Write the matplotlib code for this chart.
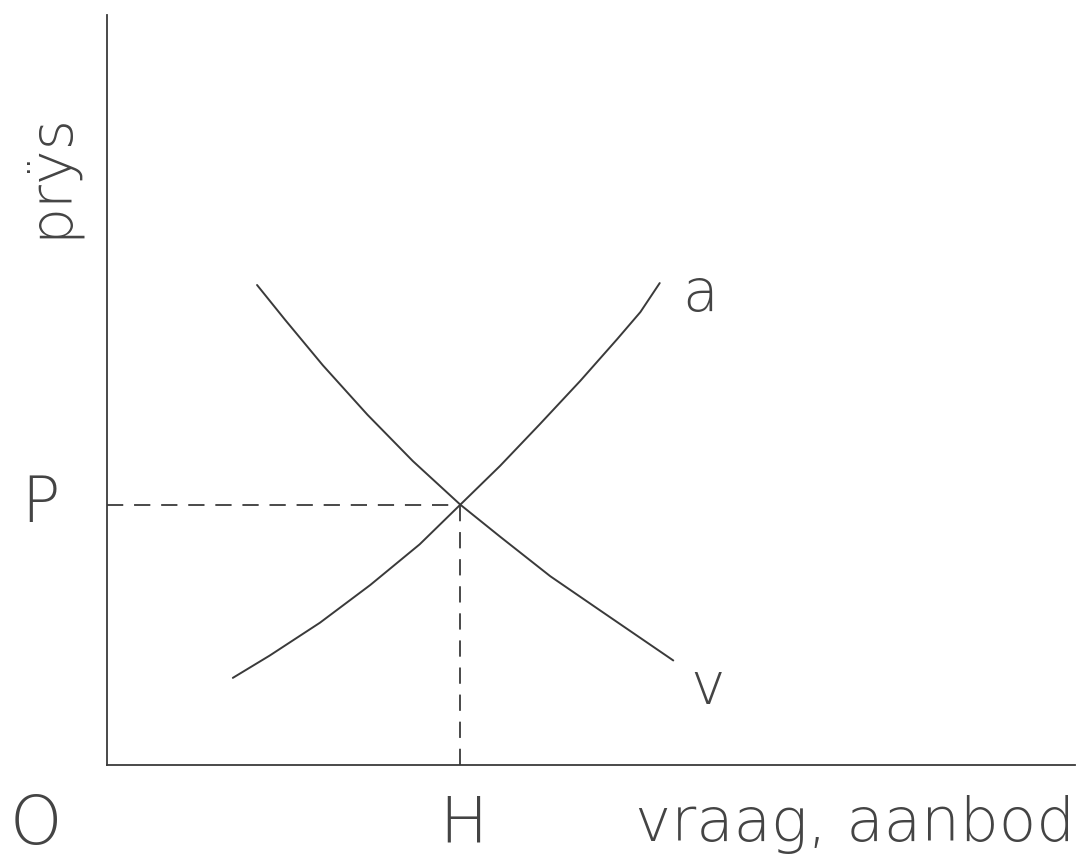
import matplotlib
matplotlib.use("Agg")
import matplotlib.pyplot as plt

aanbod_x = [1.30, 1.68, 2.20, 2.72, 3.23, 3.65, 4.06, 4.47, 4.89, 5.27, 5.51, 5.71]
aanbod_y = [0.90, 1.13, 1.47, 1.86, 2.28, 2.69, 3.09, 3.52, 3.97, 4.40, 4.68, 4.98]
vraag_x = [1.55, 1.84, 2.23, 2.69, 3.16, 3.65, 4.06, 4.58, 5.09, 5.85]
vraag_y = [4.96, 4.60, 4.13, 3.62, 3.14, 2.69, 2.36, 1.95, 1.60, 1.08]
evenwicht = (3.65, 2.69)

kleur = "#3a3a3a"
plt.rcParams['font.family'] = ['DejaVu Sans']

fig = plt.figure(figsize=(10.83, 8.63), dpi=100)
ax = fig.add_axes([0.0988, 0.1136, 0.8938, 0.869])
ax.set_xlim(0, 10)
ax.set_ylim(0, 7.75)

ax.plot(aanbod_x, aanbod_y, color=kleur, lw=1.4, solid_capstyle="round",
        solid_joinstyle="round")
ax.plot(vraag_x, vraag_y, color=kleur, lw=1.4, solid_capstyle="round",
        solid_joinstyle="round")

# stippellijnen naar P en H
ax.plot([0, evenwicht[0]], [evenwicht[1], evenwicht[1]], color=kleur, lw=1.3,
        dashes=(9, 6))
ax.plot([evenwicht[0], evenwicht[0]], [0, evenwicht[1]], color=kleur, lw=1.3,
        dashes=(9, 6))

for s in ["top", "right"]:
    ax.spines[s].set_visible(False)
for s in ["left", "bottom"]:
    ax.spines[s].set_color(kleur)
    ax.spines[s].set_linewidth(1.3)
ax.set_xticks([])
ax.set_yticks([])

tekst = dict(color="#444444", clip_on=False, fontweight="light")
ax.text(-0.74, -0.62, "O", fontsize=48, ha="center", va="center", **tekst)
ax.text(evenwicht[0] + 0.03, -0.62, "H", fontsize=46, ha="center", va="center", **tekst)
ax.text(-0.69, evenwicht[1], "P", fontsize=46, ha="center", va="center", **tekst)
ax.text(10.0, -0.62, "vraag, aanbod", fontsize=44, ha="right", va="center", **tekst)
ax.text(-0.59, 6.1, "prÿs", fontsize=42, rotation=90, ha="center", va="center", **tekst)
ax.text(6.13, 4.86, "a", fontsize=42, ha="center", va="center", **tekst)
ax.text(6.2, 0.80, "v", fontsize=42, ha="center", va="center", **tekst)

fig.savefig("out.png", dpi=100, facecolor="white")
